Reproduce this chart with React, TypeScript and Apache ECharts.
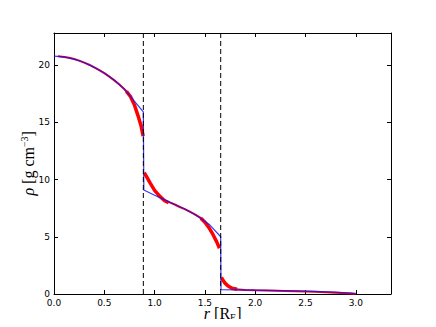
import React, { useEffect, useRef } from "react";
import * as echarts from "echarts";

// Dashed boundary radii
const boundaryR = [0.888, 1.657];

// Blue model profile
const blueR = [0, 0.1, 0.2, 0.3, 0.4, 0.5, 0.6, 0.7, 0.78, 0.888, 0.893, 1.0, 1.1, 1.2, 1.3, 1.4, 1.5, 1.55, 1.657, 1.66, 2.0, 2.4, 2.8, 2.95, 3.0];
const blueRho = [20.78, 20.72, 20.52, 20.22, 19.8, 19.3, 18.67, 17.9, 17.05, 15.9, 9.08, 8.62, 8.22, 7.82, 7.42, 6.95, 6.35, 6.02, 5.0, 0.38, 0.33, 0.27, 0.16, 0.08, 0.02];

// Red simulated points (thin parts)
const redCoreR = [0.04, 0.1, 0.15, 0.2, 0.25, 0.3, 0.35, 0.4, 0.45, 0.5, 0.55, 0.6, 0.65, 0.7, 0.74];
const redCoreRho = [20.76, 20.71, 20.63, 20.53, 20.39, 20.21, 20.03, 19.8, 19.55, 19.29, 18.99, 18.66, 18.3, 17.89, 17.5];
const redMantleR = [1.1, 1.15, 1.2, 1.25, 1.3, 1.35, 1.4, 1.45, 1.48];
const redMantleRho = [8.2, 8.0, 7.82, 7.6, 7.42, 7.2, 6.96, 6.7, 6.52];
const redTailR = [1.8, 1.9, 2.0, 2.1, 2.2, 2.3, 2.4, 2.5, 2.6, 2.7, 2.8, 2.9, 3.0];
const redTailRho = [0.42, 0.36, 0.33, 0.31, 0.29, 0.27, 0.25, 0.22, 0.19, 0.15, 0.11, 0.07, 0.03];

// Red simulated points (scattered, thick parts)
const redCoreEdgeR = [0.72, 0.76, 0.8, 0.84, 0.865, 0.886];
const redCoreEdgeRho = [17.7, 17.25, 16.5, 15.45, 14.7, 13.8];
const redMantleTopR = [0.897, 0.92, 0.955, 1.0, 1.05, 1.1, 1.14];
const redMantleTopRho = [10.6, 10.25, 9.7, 9.05, 8.55, 8.15, 7.97];
const redMantleBotR = [1.46, 1.5, 1.54, 1.58, 1.615, 1.645];
const redMantleBotRho = [6.62, 6.27, 5.8, 5.2, 4.6, 4.0];
const redCrustR = [1.664, 1.68, 1.7, 1.73, 1.77, 1.82];
const redCrustRho = [1.45, 1.2, 0.95, 0.7, 0.5, 0.41];

const xTicks = [0, 0.5, 1.0, 1.5, 2.0, 2.5, 3.0];
const yTicks = [0, 5, 10, 15, 20];
const xMax = 3.35;
const yMax = 22.8;

const zip = (a: number[], b: number[]) => a.map((v, i) => [v, b[i]]);

const RED = "#ff0000";
const BLUE = "rgba(20,20,255,0.85)";

export default function App() {
  const ref = useRef<HTMLDivElement>(null);
  useEffect(() => {
    if (!ref.current) return;
    const chart = echarts.init(ref.current, null, { renderer: "svg" });
    const isTick = (v: number, arr: number[]) => arr.some((t) => Math.abs(t - v) < 1e-6);
    const redLine = (r: number[], rho: number[], w: number) => ({
      type: "line",
      data: zip(r, rho),
      showSymbol: false,
      symbol: "none",
      lineStyle: { color: RED, width: w },
      z: 2,
      silent: true,
    });
    const tickStyle = { inside: true, length: 4, lineStyle: { color: "#000", width: 1 } };
    const lineStyle = { show: true, onZero: false, lineStyle: { color: "#000", width: 1 } };
    const mainFont = "'Liberation Serif', 'DejaVu Serif', serif";
    const richTitle = {
      i: { fontStyle: "italic", fontSize: 16, fontFamily: mainFont, lineHeight: 18, fill: "#000" },
      t: { fontSize: 16, fontFamily: mainFont, lineHeight: 18, fill: "#000" },
      sub: { fontSize: 10, fontFamily: mainFont, verticalAlign: "bottom", lineHeight: 18, fill: "#000" },
      sup: { fontSize: 10, fontFamily: mainFont, verticalAlign: "top", lineHeight: 18, fill: "#000" },
    };
    chart.setOption({
      animation: false,
      backgroundColor: "#fff",
      grid: { left: 54, right: 45, top: 33, bottom: 33, containLabel: false, outerBoundsMode: "none" },
      graphic: [
        {
          type: "text",
          x: 222.7,
          y: 313,
          silent: true,
          style: {
            text: "{i|r} {t|[R}{sub|E}{t|]}",
            rich: richTitle,
            align: "center",
            verticalAlign: "middle",
            fill: "#000",
            font: "16px " + mainFont,
          },
        },
        {
          type: "text",
          x: 28,
          y: 163.3,
          rotation: Math.PI / 2,
          silent: true,
          style: {
            text: "{i|ρ} {t|[g cm}{sup|−3}{t|]}",
            rich: richTitle,
            align: "center",
            verticalAlign: "middle",
            fill: "#000",
            font: "16px " + mainFont,
          },
        },
      ],
      xAxis: [
        {
          type: "value",
          min: 0,
          max: xMax,
          interval: 0.5,
          position: "bottom",
          axisLine: lineStyle,
          axisTick: tickStyle,
          splitLine: { show: false },
          axisLabel: {
            margin: 4,
            fontSize: 9,
            color: "#000",
            fontFamily: "DejaVu Sans",
            showMaxLabel: false,
            formatter: (v: number) => (isTick(v, xTicks) ? v.toFixed(1) : ""),
          },
        },
        {
          type: "value",
          min: 0,
          max: xMax,
          interval: 0.5,
          position: "top",
          axisLine: lineStyle,
          axisTick: tickStyle,
          axisLabel: { show: false },
          splitLine: { show: false },
        },
      ],
      yAxis: [
        {
          type: "value",
          min: 0,
          max: yMax,
          interval: 5,
          position: "left",
          axisLine: lineStyle,
          axisTick: tickStyle,
          splitLine: { show: false },
          axisLabel: {
            margin: 4,
            fontSize: 9,
            color: "#000",
            fontFamily: "DejaVu Sans",
            showMaxLabel: false,
            formatter: (v: number) => (isTick(v, yTicks) ? String(v) : ""),
          },
        },
        {
          type: "value",
          min: 0,
          max: yMax,
          interval: 5,
          position: "right",
          axisLine: lineStyle,
          axisTick: tickStyle,
          axisLabel: { show: false },
          splitLine: { show: false },
        },
      ],
      series: [
        redLine(redCoreR, redCoreRho, 2),
        redLine(redCoreEdgeR, redCoreEdgeRho, 3.5),
        redLine(redMantleTopR, redMantleTopRho, 3.5),
        redLine(redMantleR, redMantleRho, 2),
        redLine(redMantleBotR, redMantleBotRho, 3.5),
        redLine(redCrustR, redCrustRho, 3.5),
        redLine(redTailR, redTailRho, 2),
        {
          type: "line",
          data: zip(blueR, blueRho),
          showSymbol: false,
          symbol: "none",
          lineStyle: { color: BLUE, width: 1.2 },
          z: 3,
          silent: true,
        },
        ...boundaryR.map((r) => ({
          type: "line",
          data: [
            [r, 0],
            [r, yMax],
          ],
          showSymbol: false,
          symbol: "none",
          lineStyle: { color: "#000", width: 1, type: [5, 3] },
          z: 4,
          silent: true,
        })),
      ],
    });
    return () => chart.dispose();
  }, []);
  return <div ref={ref} style={{ width: 436, height: 327, margin: -8 }} />;
}
